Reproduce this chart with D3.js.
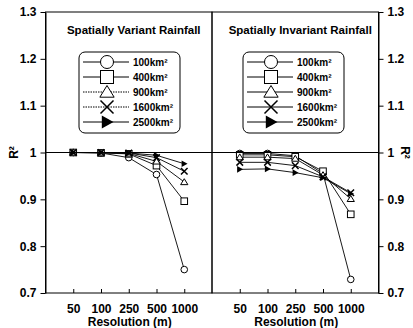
<!DOCTYPE html>
<html>
<head>
<meta charset="utf-8">
<script src="https://cdn.jsdelivr.net/npm/d3@7"></script>
<style>
  body { margin: 0; background: #fff; }
  text { font-family: "Liberation Sans", Arial, sans-serif; font-weight: bold; fill: #000; }
</style>
</head>
<body>
<div id="chart"></div>
<script>
// Data
const resolutions = ['50', '100', '250', '500', '1000'];
const areas = ['100km²', '400km²', '900km²', '1600km²', '2500km²'];
const yTicks = [0.7, 0.8, 0.9, 1, 1.1, 1.2, 1.3];
const yTickLabels = ['0.7', '0.8', '0.9', '1', '1.1', '1.2', '1.3'];

// Spatially variant rainfall, one array per area (values at 50..1000 m)
const variant100 = [1.0, 0.999, 0.989, 0.953, 0.750];
const variant400 = [1.0, 0.999, 0.997, 0.972, 0.896];
const variant900 = [1.0, 1.0, 0.998, 0.981, 0.937];
const variant1600 = [1.0, 1.0, 0.999, 0.989, 0.960];
const variant2500 = [1.0, 1.0, 0.999, 0.994, 0.976];

// Spatially invariant rainfall
const invariant100 = [0.998, 0.998, 0.993, 0.955, 0.729];
const invariant400 = [0.995, 0.995, 0.991, 0.960, 0.868];
const invariant900 = [0.990, 0.990, 0.987, 0.952, 0.901];
const invariant1600 = [0.979, 0.979, 0.972, 0.948, 0.914];
const invariant2500 = [0.964, 0.965, 0.957, 0.946, 0.912];

const panels = [
  { title: 'Spatially Variant Rainfall', series: [variant100, variant400, variant900, variant1600, variant2500] },
  { title: 'Spatially Invariant Rainfall', series: [invariant100, invariant400, invariant900, invariant1600, invariant2500] }
];
const markers = ['circle', 'square', 'triangle', 'x', 'play'];

const W = 413, H = 328;
const plotLeft = 45.5, plotMid = 212, plotRight = 378.5, plotTop = 12, plotBottom = 293;

const svg = d3.select('#chart').append('svg')
  .attr('width', W).attr('height', H);

const y = d3.scaleLinear().domain([0.7, 1.3]).range([plotBottom, plotTop]);

// draw a marker of half-size s at (cx, cy)
function marker(g, type, cx, cy, s) {
  if (type === 'circle') {
    g.append('circle').attr('cx', cx).attr('cy', cy).attr('r', s)
      .attr('fill', '#fff').attr('stroke', '#000').attr('stroke-width', 1);
  } else if (type === 'square') {
    g.append('rect').attr('x', cx - s).attr('y', cy - s).attr('width', 2 * s).attr('height', 2 * s)
      .attr('fill', '#fff').attr('stroke', '#000').attr('stroke-width', 1);
  } else if (type === 'triangle') {
    g.append('path').attr('d', `M${cx},${cy - s}L${cx + s * 1.1},${cy + s * 0.8}L${cx - s * 1.1},${cy + s * 0.8}Z`)
      .attr('fill', '#fff').attr('stroke', '#000').attr('stroke-width', 1);
  } else if (type === 'x') {
    g.append('path').attr('d', `M${cx - s},${cy - s}L${cx + s},${cy + s}M${cx - s},${cy + s}L${cx + s},${cy - s}`)
      .attr('fill', 'none').attr('stroke', '#000').attr('stroke-width', 1.5);
  } else {
    g.append('path').attr('d', `M${cx - s * 0.8},${cy - s}L${cx + s},${cy}L${cx - s * 0.8},${cy + s}Z`)
      .attr('fill', '#000');
  }
}

panels.forEach((p, pi) => {
  const x0 = pi === 0 ? plotLeft : plotMid;
  const x1 = pi === 0 ? plotMid : plotRight;
  const x = d3.scaleLinear().domain([0, resolutions.length + 1]).range([x0, x1]);
  const g = svg.append('g');

  // frame
  g.append('rect').attr('x', x0).attr('y', plotTop).attr('width', x1 - x0).attr('height', plotBottom - plotTop)
    .attr('fill', 'none').attr('stroke', '#000').attr('stroke-width', 1);

  // x axis
  g.append('g')
    .attr('transform', `translate(0,${plotBottom})`)
    .call(d3.axisBottom(x).tickValues(d3.range(1, resolutions.length + 1))
      .tickFormat(i => resolutions[i - 1]).tickSizeInner(-4).tickSizeOuter(0).tickPadding(11))
    .call(a => a.select('.domain').remove())
    .call(a => a.selectAll('.tick line').attr('stroke', '#000'))
    .call(a => a.selectAll('.tick text').attr('font-size', '12px').attr('font-family', null));

  g.append('text')
    .attr('x', (x0 + x1) / 2 + 1).attr('y', 326)
    .attr('text-anchor', 'middle').attr('font-size', '12px')
    .text('Resolution (m)');

  // title
  g.append('text')
    .attr('x', (x0 + x1) / 2 + 5).attr('y', 34)
    .attr('text-anchor', 'middle').attr('font-size', '11.5px')
    .text(p.title);

  // data lines and markers
  const line = d3.line().x((d, i) => x(i + 1)).y(d => y(d));
  p.series.forEach(vals => {
    g.append('path').attr('d', line(vals))
      .attr('fill', 'none').attr('stroke', '#000').attr('stroke-width', 0.9);
  });
  p.series.forEach((vals, si) => {
    vals.forEach((v, i) => marker(g, markers[si], x(i + 1), y(v), 3.3));
  });

  // legend
  const lx = pi === 0 ? 79 : 243;
  const lg = g.append('g');
  lg.append('rect').attr('x', lx).attr('y', 52).attr('width', 101).attr('height', 81).attr('rx', 6)
    .attr('fill', '#fff').attr('stroke', '#000').attr('stroke-width', 1);
  areas.forEach((a, si) => {
    const ly = 62 + si * 15;
    lg.append('line').attr('x1', lx + 4).attr('x2', lx + 50).attr('y1', ly).attr('y2', ly)
      .attr('stroke', '#000').attr('stroke-width', 1)
      .attr('stroke-dasharray', pi === 0 && (si === 2 || si === 3) ? '1.5,1' : null);
    marker(lg, markers[si], lx + 28, ly, 6.5);
    lg.append('text').attr('x', lx + 54).attr('y', ly + 3.5)
      .attr('font-size', '10px').text(a);
  });
});

// R² = 1 reference line
svg.append('line').attr('x1', plotLeft).attr('x2', plotRight).attr('y1', y(1)).attr('y2', y(1))
  .attr('stroke', '#000').attr('stroke-width', 1);

// y axes
svg.append('g').attr('transform', `translate(${plotLeft},0)`)
  .call(d3.axisLeft(y).tickValues(yTicks).tickFormat((d, i) => yTickLabels[i]).tickSizeInner(5).tickSizeOuter(0).tickPadding(4))
  .call(a => a.selectAll('.tick line').attr('stroke', '#000'))
  .call(a => a.select('.domain').attr('stroke', '#000'))
  .call(a => a.selectAll('.tick text').attr('font-size', '12px').attr('font-family', null));

svg.append('g').attr('transform', `translate(${plotRight},0)`)
  .call(d3.axisRight(y).tickValues(yTicks).tickFormat((d, i) => yTickLabels[i]).tickSizeInner(5).tickSizeOuter(0).tickPadding(4))
  .call(a => a.selectAll('.tick line').attr('stroke', '#000'))
  .call(a => a.select('.domain').attr('stroke', '#000'))
  .call(a => a.selectAll('.tick text').attr('font-size', '12px').attr('font-family', null));

svg.append('text').attr('transform', `translate(18,${y(1)}) rotate(-90)`)
  .attr('text-anchor', 'middle').attr('font-size', '12px').text('R²');
svg.append('text').attr('transform', `translate(401,${y(1)}) rotate(90)`)
  .attr('text-anchor', 'middle').attr('font-size', '12px').text('R²');
</script>
</body>
</html>
